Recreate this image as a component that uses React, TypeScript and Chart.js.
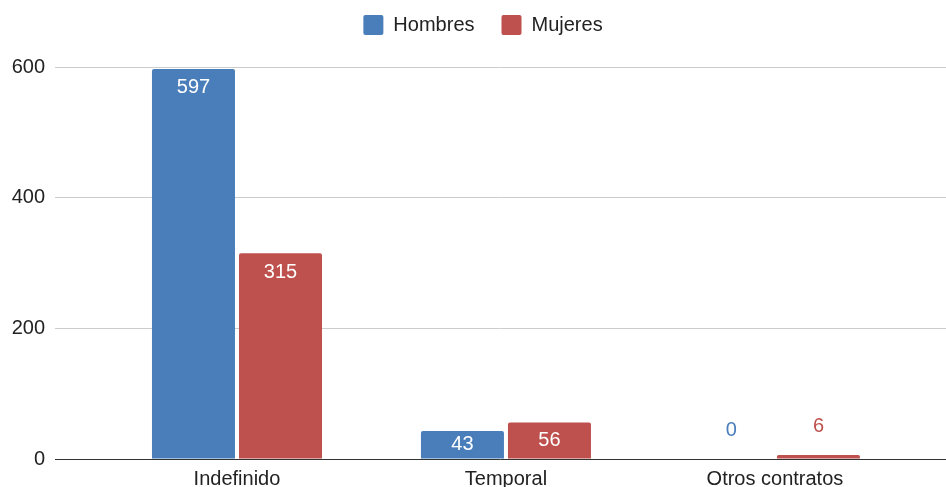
import React, { useEffect, useRef } from "react";
import { Chart, registerables } from "chart.js";

Chart.register(...registerables);

const categories = ["Indefinido", "Temporal", "Otros contratos"];
const hombres = [597, 43, 0];
const mujeres = [315, 56, 6];
const seriesNames = ["Hombres", "Mujeres"];
const yTicks = [0, 200, 400, 600];

const BLUE = "#4a7ebb";
const RED = "#be504d";
const FONT = "'Liberation Sans', Arial, sans-serif";

const legendSpacer = {
  id: "legendSpacer",
  beforeLayout(chart: any) {
    const lg: any = chart.legend;
    if (lg && !lg._spaced) {
      const fit = lg.fit.bind(lg);
      lg.fit = () => {
        fit();
        lg.height += 22;
      };
      const draw = lg.draw.bind(lg);
      lg.draw = () => {
        const ctx = chart.ctx;
        ctx.save();
        ctx.translate(10, 0);
        draw();
        ctx.restore();
      };
      lg._spaced = true;
    }
  },
};

const valueLabels = {
  id: "valueLabels",
  afterDatasetsDraw(chart: any) {
    const ctx = chart.ctx;
    ctx.save();
    ctx.font = `20px ${FONT}`;
    ctx.textAlign = "center";
    ctx.textBaseline = "middle";
    chart.data.datasets.forEach((ds: any, di: number) => {
      const meta = chart.getDatasetMeta(di);
      meta.data.forEach((el: any, i: number) => {
        const { x, y, base } = el.getProps(["x", "y", "base"], true);
        const h = base - y;
        const v = ds.data[i].y;
        if (h >= 20) {
          ctx.fillStyle = "#ffffff";
          ctx.fillText(String(v), x, y + Math.min(19, h / 2));
        } else {
          ctx.fillStyle = ds.backgroundColor;
          ctx.fillText(String(v), x, y - 29);
        }
      });
    });
    ctx.restore();
  },
};

export default function App() {
  const ref = useRef<HTMLCanvasElement | null>(null);

  useEffect(() => {
    if (!ref.current) return;
    const chart = new Chart(ref.current, {
      type: "bar",
      data: {
        datasets: [
          {
            label: seriesNames[0],
            data: categories.map((_, i) => ({ x: i, y: hombres[i] })),
            backgroundColor: BLUE,
            borderRadius: 2,
            borderSkipped: "start",
            categoryPercentage: 0.647,
            barPercentage: 0.954,
          },
          {
            label: seriesNames[1],
            data: categories.map((_, i) => ({ x: i, y: mujeres[i] })),
            backgroundColor: RED,
            borderRadius: 2,
            borderSkipped: "start",
            categoryPercentage: 0.647,
            barPercentage: 0.954,
          },
        ],
      },
      options: {
        animation: false,
        responsive: true,
        maintainAspectRatio: false,
        layout: { padding: { top: -12, left: 0, right: 0, bottom: 0 } },
        plugins: {
          legend: {
            position: "top",
            labels: {
              boxWidth: 20,
              boxHeight: 20,
              padding: 27,
              useBorderRadius: true,
              borderRadius: 2,
              color: "#222",
              font: { family: FONT, size: 20 },
            },
          },
          tooltip: { enabled: false },
        },
        scales: {
          x: {
            type: "linear",
            offset: false,
            min: -0.6766,
            max: 2.636,
            afterBuildTicks: (axis: any) => {
              axis.ticks = categories.map((_, i) => ({ value: i }));
            },
            afterFit: (axis: any) => {
              axis.height = 28;
            },
            grid: { display: false, drawTicks: false, offset: false },
            border: { display: false },
            ticks: {
              padding: 8,
              autoSkip: false,
              maxRotation: 0,
              color: "#222",
              font: { family: FONT, size: 20 },
              callback: (v: any) => categories[v] ?? "",
            },
          },
          y: {
            min: yTicks[0],
            max: yTicks[yTicks.length - 1],
            afterBuildTicks: (axis: any) => {
              axis.ticks = yTicks.map((v) => ({ value: v }));
            },
            afterFit: (axis: any) => {
              axis.width = 55;
            },
            grid: {
              drawTicks: false,
              color: (c: any) => (c.tick && c.tick.value === 0 ? "#333333" : "#cccccc"),
              lineWidth: 1,
            },
            border: { display: false },
            ticks: {
              padding: 10,
              color: "#222",
              font: { family: FONT, size: 20 },
            },
          },
        },
      } as any,
      plugins: [legendSpacer, valueLabels],
    });
    return () => chart.destroy();
  }, []);

  return (
    <div style={{ position: "absolute", left: 0, top: 0, width: 946, height: 487 }}>
      <canvas ref={ref} />
    </div>
  );
}
